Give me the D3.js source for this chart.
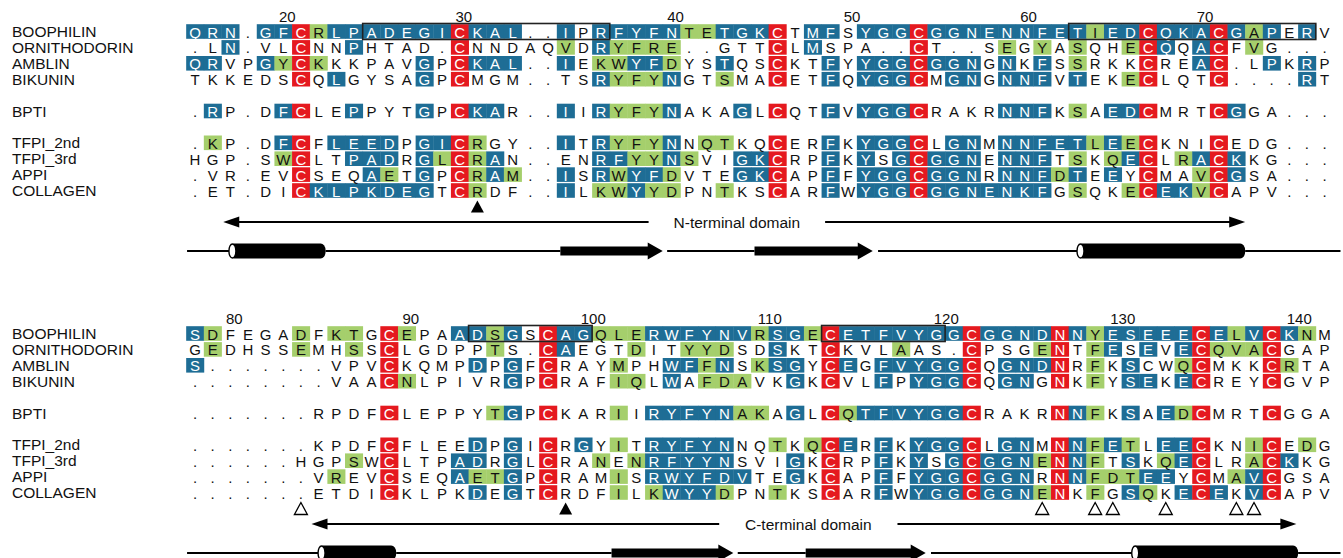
<!DOCTYPE html>
<html>
<head>
<meta charset="utf-8">
<script src="https://cdn.jsdelivr.net/npm/d3@7"></script>
<style>
  body { margin: 0; background: #fff; }
  svg { display: block; }
  text { font-family: 'Liberation Sans', Arial, Helvetica, sans-serif; }
</style>
</head>
<body>
<svg id="chart"></svg>
<script>
// sequence names and their vertical slot in each block
const names = ['BOOPHILIN', 'ORNITHODORIN', 'AMBLIN', 'BIKUNIN', 'BPTI', 'TFPI_2nd', 'TFPI_3rd', 'APPI', 'COLLAGEN'];
const rowSlots = [0, 1, 2, 3, 5, 7, 8, 9, 10];

// N-terminal domain alignment (b = blue, g = green, r = red, - = plain)
const topSeqs = [
    'QRN.GFCRLPADEGICKAL..IPRFYFNTETGKCTMFSYGGCGGNENNFETIEDCQKACGAPERV',
    '.LN.VLCNNPHTAD.CNNDAQVDRYFRE..GTTCLMSPA..CT..SEGYASQHECQQACFVG...',
    'QRVPGYCKKKPAVGPCKAL..IEKWYFDYSTQSCKTFYYGGCGGNGNKFSSRKKCREAC.LPKRP',
    'TKKEDSCQLGYSAGPCMGM..TSRYFYNGTSMACETFQYGGCMGNGNNFVTEKECLQTC....RT',
    '.RP.DFCLEPPYTGPCKAR..IIRYFYNAKAGLCQTFVYGGCRAKRNNFKSAEDCMRTCGGA...',
    '.KP.DFCFLEEDPGICRGY..ITRYFYNNQTKQCERFKYGGCLGNMNNFETLEECKNICEDG...',
    'HGP.SWCLTPADRGLCRAN..ENRFYYNSVIGKCRPFKYSGCGGNENNFTSKQECLRACKKG...',
    '.VR.EVCSEQAETGPCRAM..ISRWYFDVTEGKCAPFFYGGCGGNRNNFDTEEYCMAVCGSA...',
    '.ET.DICKLPKDEGTCRDF..ILKWYYDPNTKSCARFWYGGCGGNENKFGSQKECEKVCAPV...'
];
const topShade = [
    'bbb-bbrgbbbbbbbrbbb--b-bbbbbggbbbr-bb-bbbrbbbbbbbbbgbbrbbbrbgb-b-',
    '--b---r--b-----r-----g-bgggg-----r-b-----r----g-g-g--grb-br-g----',
    'bb--bgrg-----b-rbbb--b-ggbbg--b--r--b-bbbrbbb-b-b-g---r--br--b-b-',
    '------r-b----b-r-------bgggb--g--r--b-bbbr-bb-bbb-b--gr---r----b-',
    '-b---br--b---b-rbb---b-bgggb---b-r--b-bbbr----bbb-g-bbr---rb-----',
    '-g---br-bbbb-bbrg----b-bgggb-gg--r--b-bbbr-bb-bbbbbgbgr---r------',
    '-----gr--bbb-bgrgb-----bbggbg--bbr--b-b-brbbb-bbb-g-gbr-gbrb-----',
    '------r---bg-b-rgbg--b-bgbbg---bbr--b-bbbrbbb-bbbgb-b-r--grb-----',
    '------rbbbbbbb-rg----b-ggbgg--g--r--b-bbbrbbbbbbb-g--grbbgr------'
];

// C-terminal domain alignment
const bottomSeqs = [
    'SDFEGADFKTGCEPAADSGSCAGQLERWFYNVRSGECETFVYGGCGGNDNNYESEEECELVCKNM',
    'GEDHSSEMHSSCLGDPPTS.CAEGTDITYYDSDSKTCKVLAAS.CPSGENTFESEVECQVACGAP',
    'S.......VPVCKQMPDPGFCRAYMPHWFFNSKSGYCEGFVYGGCQGNDNRFKSCWQCMKKCRTA',
    '........VAACNLPIVRGPCRAFIQLWAFDAVKGKCVLFPYGGCQGNGNKFYSEKECREYCGVP',
    '.......RPDFCLEPPYTGPCKARIIRYFYNAKAGLCQTFVYGGCRAKRNNFKSAEDCMRTCGGA',
    '.......KPDFCFLEEDPGICRGYITRYFYNNQTKQCERFKYGGCLGNMNNFETLEECKNICEDG',
    '......HGPSWCLTPADRGLCRANENRFYYNSVIGKCRPFKYSGCGGNENNFTSKQECLRACKKG',
    '.......VREVCSEQAETGPCRAMISRWYFDVTEGKCAPFFYGGCGGNRNNFDTEEYCMAVCGSA',
    '.......ETDICKLPKDEGTCRDFILKWYYDPNTKSCARFWYGGCGGNENKFGSQKECEKVCAPV'
];
const bottomShade = [
    'bg----g-gg-rg--bbgb-rbbgggbbbbbbgbbgrbbbbbbbrbbbbrbgbbbbbrbgbrbg-',
    '-g----g--g-r-----g--rb---g--ggg--b--r---g---r---gr-gb-b-brgggr---',
    'b----------r----b-b-r---g--bbgb-gbb-rb-bbbbbr-bbbr-g-b--gr---rg--',
    '-----------rg-----b-r---gg-b-ggg--b-r--b-bbbr-bb-r-g-bb-br---r---',
    '-----------r-----gb-r---g-bbbbbgg-b-rgbbbbbbr----rbg-b-bgr---r---',
    '-----------r----b-b-r-b-g-bbbbb--g-grb-b-bbbr-bb-rbgbg-bbr--gr-g-',
    '---------g-r---bb-b-r--g-gbbbbb---b-r--b-b-brbbbgrbg-b-gbr--grb--',
    '--------g--r---bggb-r---g-bbbbbb--b-r--b-bbbrbbb-rbgggbb-r-gbr---',
    '-----------r----b-b-r---g-gbbbg--g--r--b-bbbrbbbgr-g-bg-brb-br---'
];

// residue numbering (column, label)
const topTickCols = [5, 15, 27, 37, 47, 57];
const topTickLabels = ['20', '30', '40', '50', '60', '70'];
const bottomTickCols = [2, 12, 22, 32, 42, 52, 62];
const bottomTickLabels = ['80', '90', '100', '110', '120', '130', '140'];

// outlined stretches of the BOOPHILIN row [first col, last col]
const topBoxes = [[10, 23], [50, 63]];
const bottomBoxes = [[16, 22], [36, 42]];

// triangles under the alignment
const topFilled = [16];
const topOpen = [];
const bottomFilled = [21];
const bottomOpen = [6, 48, 51, 52, 55, 59, 60];

// domain arrows: left tip, left line end, right line start, right tip (columns)
const topDomain = [1.6, 25.7, 35.7, 59.5];
const bottomDomain = [6.6, 29.7, 39.8, 62.4];

// secondary structure [type, from col, to col]
const topStructure = [
    ['coil', -0.45, 1.95], ['helix', 1.95, 7.4], ['coil', 7.4, 20.7], ['strand', 20.7, 26.5],
    ['coil', 26.75, 31.7], ['strand', 31.7, 38.4], ['coil', 38.7, 50.0], ['helix', 50.0, 59.5],
    ['coil', 59.5, 64.9]
];
const bottomStructure = [
    ['coil', -0.45, 7.0], ['helix', 7.0, 11.4], ['coil', 11.4, 23.6], ['strand', 23.6, 30.5],
    ['coil', 30.75, 34.6], ['strand', 34.6, 41.4], ['coil', 41.7, 53.1], ['helix', 53.1, 62.5],
    ['coil', 62.5, 64.9]
];

const width = 1343;
const height = 558;

const colX = d3.scaleLinear().domain([0, 64]).range([195, 1324.6]);
const colW = colX(1) - colX(0);
const slotY = d3.scaleLinear().domain([0, 10]).range([31.5, 190.5]);

const shadeFill = { b: '#1e6d95', g: '#a5cf6c', r: '#e5191f' };
const shadeInk = { b: '#ffffff', g: '#111111', r: '#ffffff', '-': '#111111' };

const svg = d3.select('#chart')
    .attr('width', width)
    .attr('height', height);

function drawBlock(offset, seqs, shades, tickCols, tickLabels, boxes, filled, open, domain, domainLabel, structure) {
    const g = svg.append('g')
        .attr('transform', `translate(0, ${offset})`);

    g.selectAll('text.name')
        .data(names)
        .join('text')
            .attr('class', 'name')
            .attr('x', 12)
            .attr('y', (d, i) => slotY(rowSlots[i]))
            .attr('dominant-baseline', 'central')
            .style('font-size', '15.5px')
            .attr('fill', '#111')
            .text(d => d);

    g.selectAll('text.tick')
        .data(tickCols)
        .join('text')
            .attr('class', 'tick')
            .attr('x', (d, i) => colX(d) + (tickLabels[i].length === 3 ? 10 : 4))
            .attr('y', 16)
            .attr('text-anchor', 'middle')
            .attr('dominant-baseline', 'central')
            .style('font-size', '15px')
            .attr('fill', '#111')
            .text((d, i) => tickLabels[i]);

    const cells = seqs.flatMap((s, row) =>
        s.split('').map((ch, c) => ({ ch, c, row, shade: shades[row][c] })));

    g.selectAll('rect.cell')
        .data(cells.filter(d => d.shade !== '-'))
        .join('rect')
            .attr('class', 'cell')
            .attr('x', d => colX(d.c) - colW / 2)
            .attr('y', d => slotY(rowSlots[d.row]) - 7.3)
            .attr('width', colW + 0.4)
            .attr('height', 14.6)
            .attr('fill', d => shadeFill[d.shade]);

    g.selectAll('text.res')
        .data(cells)
        .join('text')
            .attr('class', 'res')
            .attr('x', d => colX(d.c))
            .attr('y', d => slotY(rowSlots[d.row]) + 0.5)
            .attr('text-anchor', 'middle')
            .attr('dominant-baseline', 'central')
            .style('font-size', '15px')
            .attr('fill', d => shadeInk[d.shade])
            .text(d => d.ch);

    g.selectAll('rect.box')
        .data(boxes)
        .join('rect')
            .attr('class', 'box')
            .attr('x', d => colX(d[0]) - colW / 2)
            .attr('y', slotY(0) - 8)
            .attr('width', d => colX(d[1]) - colX(d[0]) + colW)
            .attr('height', 16)
            .attr('fill', 'none')
            .attr('stroke', '#222')
            .attr('stroke-width', 1.6);

    // triangles below the last row
    const triTop = slotY(10) + 10;
    const tri = c => `M${colX(c)},${triTop} L${colX(c) + 6.5},${triTop + 12} L${colX(c) - 6.5},${triTop + 12} Z`;
    g.selectAll('path.filled')
        .data(filled)
        .join('path')
            .attr('class', 'filled')
            .attr('d', tri)
            .attr('fill', '#000');
    g.selectAll('path.open')
        .data(open)
        .join('path')
            .attr('class', 'open')
            .attr('d', tri)
            .attr('fill', '#fff')
            .attr('stroke', '#000')
            .attr('stroke-width', 1.3);

    // domain arrow
    const dy = 222;
    const head = 16;
    const half = 5.5;
    g.append('line')
        .attr('x1', colX(domain[0]) + head - 2).attr('x2', colX(domain[1]))
        .attr('y1', dy).attr('y2', dy)
        .attr('stroke', '#000').attr('stroke-width', 2);
    g.append('path')
        .attr('d', `M${colX(domain[0])},${dy} L${colX(domain[0]) + head},${dy - half} L${colX(domain[0]) + head},${dy + half} Z`)
        .attr('fill', '#000');
    g.append('line')
        .attr('x1', colX(domain[2])).attr('x2', colX(domain[3]) - head + 2)
        .attr('y1', dy).attr('y2', dy)
        .attr('stroke', '#000').attr('stroke-width', 2);
    g.append('path')
        .attr('d', `M${colX(domain[3])},${dy} L${colX(domain[3]) - head},${dy - half} L${colX(domain[3]) - head},${dy + half} Z`)
        .attr('fill', '#000');
    g.append('text')
        .attr('x', colX((domain[1] + domain[2]) / 2))
        .attr('y', dy)
        .attr('text-anchor', 'middle')
        .attr('dominant-baseline', 'central')
        .style('font-size', '15.5px')
        .attr('fill', '#111')
        .text(domainLabel);

    // secondary structure
    const sy = 251;
    structure.forEach(([type, from, to]) => {
        const x0 = colX(from);
        const x1 = colX(to);
        if (type === 'coil') {
            g.append('line')
                .attr('x1', x0).attr('x2', x1)
                .attr('y1', sy).attr('y2', sy)
                .attr('stroke', '#000').attr('stroke-width', 2);
        } else if (type === 'helix') {
            g.append('rect')
                .attr('x', x0).attr('y', sy - 7.5)
                .attr('width', x1 - x0).attr('height', 15)
                .attr('rx', 5).attr('ry', 7)
                .attr('fill', '#000');
            g.append('ellipse')
                .attr('cx', x0 + 3).attr('cy', sy)
                .attr('rx', 3.5).attr('ry', 7)
                .attr('fill', '#fff')
                .attr('stroke', '#000').attr('stroke-width', 1.4);
        } else {
            const hl = 15;
            g.append('path')
                .attr('d', `M${x0},${sy - 4.5} L${x1 - hl},${sy - 4.5} L${x1 - hl},${sy - 8.5} L${x1},${sy} ` +
                    `L${x1 - hl},${sy + 8.5} L${x1 - hl},${sy + 4.5} L${x0},${sy + 4.5} Z`)
                .attr('fill', '#000');
        }
    });
}

drawBlock(0, topSeqs, topShade, topTickCols, topTickLabels, topBoxes, topFilled, topOpen,
    topDomain, 'N-terminal domain', topStructure);
drawBlock(302, bottomSeqs, bottomShade, bottomTickCols, bottomTickLabels, bottomBoxes, bottomFilled, bottomOpen,
    bottomDomain, 'C-terminal domain', bottomStructure);
</script>
</body>
</html>
